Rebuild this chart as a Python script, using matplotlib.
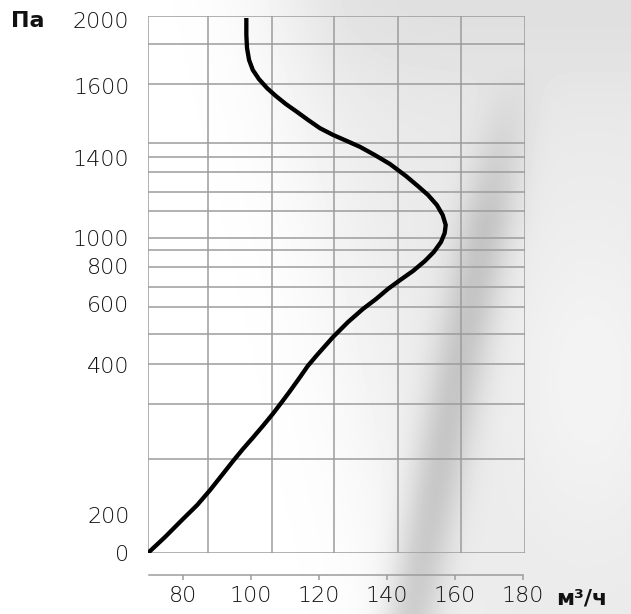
import numpy as np
import matplotlib
matplotlib.use("Agg")
import matplotlib.pyplot as plt
from matplotlib.ticker import NullLocator

# --- data ---
flow = [69.8, 74.8, 79.8, 84.2, 88.0, 91.5, 94.8, 97.7, 100.6, 103.6,
        106.5, 109.2, 111.5, 114.5, 116.8, 119.5, 124.2, 128.6, 133.0, 136.8,
        140.3, 143.9, 147.7, 151.2, 153.8, 155.9, 157.0, 157.3, 156.4, 154.7,
        152.1, 149.1, 145.6, 140.9, 136.5, 132.1, 128.3, 124.2, 120.3, 116.8,
        113.6, 110.3, 107.4, 104.8, 102.4, 100.6, 99.5, 98.9, 98.7, 98.7]
pressure = [0, 84, 174, 213, 233, 253, 272, 288, 303, 319,
            335, 351, 365, 384, 399, 433, 492, 541, 584, 626,
            679, 726, 774, 836, 900, 971, 1025, 1065, 1115, 1165,
            1215, 1260, 1310, 1370, 1408, 1431, 1447, 1464, 1483, 1506,
            1528, 1550, 1572, 1594, 1642, 1697, 1758, 1830, 1909, 2012]

x_ticks = [80, 100, 120, 140, 160, 180]
y_ticks = [0, 200, 400, 600, 800, 1000, 1400, 1600, 2000]
y_unit = "Па"
x_unit = "м³/ч"

# --- layout ---
W, H = 631, 614
BOX_L, BOX_R, BOX_T, BOX_B = 147.5, 525.0, 16.0, 553.0
BOX_H = BOX_B - BOX_T
# the y axis is not linear: height (px above the box bottom) of each tick
PA_KNOTS = [-1000, 0, 200, 400, 600, 800, 1000, 1400, 1600, 2000, 3000]
ROW_KNOTS = [-190, 0, 38, 188, 249, 287, 315, 395, 467, 533, 698]
GRID_ROWS = [44, 84, 143, 157, 172, 192, 211, 238, 250, 267, 287, 307,
             334, 364, 404, 459]
GRID_COLS = [208, 272, 334, 398, 461]
GRID_COLOR = "#9c9c9c"
TEXT_COLOR = "#111111"
FS = 16


def fwd(v):
    return np.interp(v, PA_KNOTS, ROW_KNOTS)


def inv(r):
    return np.interp(r, ROW_KNOTS, PA_KNOTS)


def background():
    # soft grey photo-like backdrop on the right side
    yy, xx = np.mgrid[0:H, 0:W].astype(float)
    img = np.ones((H, W))
    edge = 280 + 0.22 * yy
    img -= 0.085 / (1 + np.exp(-(xx - edge) / 35))
    # darker shadow band running down to the bottom
    band_x = 505 - 0.19 * (yy - 120)
    fade = np.clip((yy - 60) / 160, 0, 1)
    img -= 0.15 * np.exp(-((xx - band_x) / 28) ** 2) * fade
    # soft light patch right of the band
    img += 0.04 * np.exp(-(((xx - 590) / 80) ** 2 + ((yy - 380) / 160) ** 2))
    # slightly darker top strip
    img -= 0.04 * np.exp(-(yy / 90) ** 2) / (1 + np.exp(-(xx - 300) / 25))
    return np.clip(img, 0, 1)


fig = plt.figure(figsize=(W / 100, H / 100), dpi=100)
bg = fig.add_axes([0, 0, 1, 1], zorder=-1)
bg.imshow(background(), cmap="gray", vmin=0, vmax=1, extent=(0, W, H, 0),
          aspect="auto", interpolation="bilinear")
bg.axis("off")

ax = fig.add_axes([BOX_L / W, 1 - BOX_B / H, (BOX_R - BOX_L) / W, BOX_H / H])
ax.set_facecolor("none")
ax.set_yscale("function", functions=(fwd, inv))
ax.set_xlim(69.65, 180.6)
ax.set_ylim(0, inv(BOX_H))

# decorative grid (not tied to tick values)
for r in GRID_ROWS:
    f = (BOX_B - r) / BOX_H
    ax.plot([0, 1], [f, f], transform=ax.transAxes, color=GRID_COLOR, lw=1.1, zorder=1)
for c in GRID_COLS:
    f = (c - BOX_L) / (BOX_R - BOX_L)
    ax.plot([f, f], [0, 1], transform=ax.transAxes, color=GRID_COLOR, lw=1.1, zorder=1)
ax.add_patch(plt.Rectangle((0, 0), 1, 1, transform=ax.transAxes, fill=False,
                           edgecolor=GRID_COLOR, lw=1.1, zorder=1))

ax.plot(flow, pressure, color="black", lw=3.1, zorder=3,
        solid_joinstyle="round", solid_capstyle="butt")

for s in ["left", "right", "top"]:
    ax.spines[s].set_visible(False)
ax.spines["bottom"].set_position(("outward", 22 * 0.72))
ax.spines["bottom"].set_bounds(70, 180)
ax.spines["bottom"].set_color(GRID_COLOR)
ax.spines["bottom"].set_linewidth(1.1)

ax.set_xticks(x_ticks)
ax.set_xticklabels([str(v) for v in x_ticks], fontsize=FS, fontweight="light",
                   color=TEXT_COLOR)
ax.set_yticks(y_ticks)
ax.set_yticklabels([str(v) for v in y_ticks], fontsize=FS, fontweight="light",
                   color=TEXT_COLOR)
ax.yaxis.set_minor_locator(NullLocator())
ax.tick_params(axis="x", direction="out", length=3.6, width=1.1, color=GRID_COLOR, pad=4.5)
ax.tick_params(axis="y", length=0, pad=13.0)

fig.text(28 / W, 1 - 21 / H, y_unit, ha="center", va="center", fontsize=FS,
         fontweight="bold", color=TEXT_COLOR)
fig.text(556 / W, 1 - 598 / H, x_unit, ha="left", va="center", fontsize=FS,
         fontweight="bold", color=TEXT_COLOR)

fig.savefig("out.png", dpi=100)
